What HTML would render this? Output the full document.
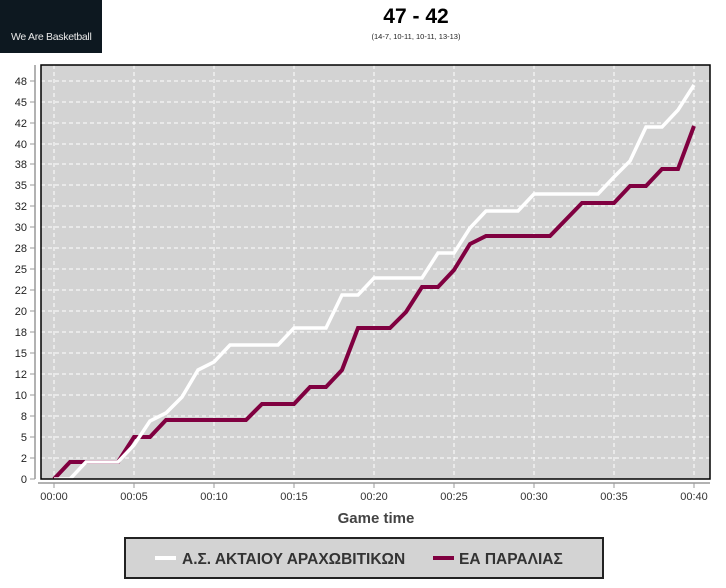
<!DOCTYPE html>
<html><head><meta charset="utf-8"><style>
html,body{margin:0;padding:0;background:#fff;width:726px;height:588px;overflow:hidden}
svg{display:block;font-family:"Liberation Sans",Arial,sans-serif}
</style></head><body>
<svg width="726" height="588" viewBox="0 0 726 588">
<rect x="0" y="0" width="102" height="53" fill="#0d1820"/>
<text x="11" y="40" font-size="10.5" fill="#e8e8e8" letter-spacing="-0.3">We Are Basketball</text>
<text x="416" y="23" text-anchor="middle" font-size="21" font-weight="bold" fill="#000">47 - 42</text>
<text x="416" y="39" text-anchor="middle" font-size="7.5" fill="#222">(14-7, 10-11, 10-11, 13-13)</text>
<rect x="41" y="65" width="669" height="414" fill="#d3d3d3"/>
<g stroke="#fff" stroke-width="1" stroke-dasharray="4,3">
<line x1="41" x2="710" y1="458" y2="458"/><line x1="41" x2="710" y1="437" y2="437"/>
<line x1="41" x2="710" y1="416" y2="416"/><line x1="41" x2="710" y1="395" y2="395"/>
<line x1="41" x2="710" y1="374" y2="374"/><line x1="41" x2="710" y1="353" y2="353"/>
<line x1="41" x2="710" y1="332" y2="332"/><line x1="41" x2="710" y1="311" y2="311"/>
<line x1="41" x2="710" y1="290" y2="290"/><line x1="41" x2="710" y1="269" y2="269"/>
<line x1="41" x2="710" y1="248" y2="248"/><line x1="41" x2="710" y1="227" y2="227"/>
<line x1="41" x2="710" y1="206" y2="206"/><line x1="41" x2="710" y1="185" y2="185"/>
<line x1="41" x2="710" y1="164" y2="164"/><line x1="41" x2="710" y1="144" y2="144"/>
<line x1="41" x2="710" y1="123" y2="123"/><line x1="41" x2="710" y1="102" y2="102"/>
<line x1="41" x2="710" y1="81" y2="81"/>
<line y1="65" y2="479" x1="54" x2="54"/><line y1="65" y2="479" x1="134" x2="134"/>
<line y1="65" y2="479" x1="214" x2="214"/><line y1="65" y2="479" x1="294" x2="294"/>
<line y1="65" y2="479" x1="374" x2="374"/><line y1="65" y2="479" x1="454" x2="454"/>
<line y1="65" y2="479" x1="534" x2="534"/><line y1="65" y2="479" x1="614" x2="614"/>
<line y1="65" y2="479" x1="694" x2="694"/>
</g>
<polyline fill="none" stroke="#800040" stroke-width="4" points="54,479 70,462 86,462 118,462 134,437 150,437 166,420 246,420 262,404 294,404 310,387 326,387 342,370 358,328 390,328 406,312 422,287 438,287 454,270 470,244 486,236 550,236 582,203 614,203 630,186 646,186 662,169 678,169 694,126"/>
<polyline fill="none" stroke="#fff" stroke-width="3.5" points="54,479 70,479 86,462 118,462 134,445 150,421 166,413 182,397 198,370 214,362 230,345 278,345 294,328 326,328 342,295 358,295 374,278 422,278 438,253 454,253 470,228 486,211 518,211 534,194 598,194 614,177 630,161 646,127 662,127 678,110 694,85"/>
<rect x="41" y="65" width="669" height="414" fill="none" stroke="#000" stroke-width="1.5"/>
<g stroke="#999" stroke-width="1.5" fill="none">
<line x1="35" y1="65" x2="35" y2="479"/>
<line x1="38" y1="483" x2="710" y2="483"/>
</g>
<g stroke="#999" stroke-width="1">
<line x1="30" x2="35" y1="479" y2="479"/><line x1="30" x2="35" y1="458" y2="458"/><line x1="30" x2="35" y1="437" y2="437"/><line x1="30" x2="35" y1="416" y2="416"/><line x1="30" x2="35" y1="395" y2="395"/><line x1="30" x2="35" y1="374" y2="374"/><line x1="30" x2="35" y1="353" y2="353"/><line x1="30" x2="35" y1="332" y2="332"/><line x1="30" x2="35" y1="311" y2="311"/><line x1="30" x2="35" y1="290" y2="290"/><line x1="30" x2="35" y1="269" y2="269"/><line x1="30" x2="35" y1="248" y2="248"/><line x1="30" x2="35" y1="227" y2="227"/><line x1="30" x2="35" y1="206" y2="206"/><line x1="30" x2="35" y1="185" y2="185"/><line x1="30" x2="35" y1="164" y2="164"/><line x1="30" x2="35" y1="144" y2="144"/><line x1="30" x2="35" y1="123" y2="123"/><line x1="30" x2="35" y1="102" y2="102"/><line x1="30" x2="35" y1="81" y2="81"/>
<line y1="483" y2="488" x1="54" x2="54"/><line y1="483" y2="488" x1="134" x2="134"/><line y1="483" y2="488" x1="214" x2="214"/><line y1="483" y2="488" x1="294" x2="294"/><line y1="483" y2="488" x1="374" x2="374"/><line y1="483" y2="488" x1="454" x2="454"/><line y1="483" y2="488" x1="534" x2="534"/><line y1="483" y2="488" x1="614" x2="614"/><line y1="483" y2="488" x1="694" x2="694"/>
</g>
<g font-size="11" fill="#222" text-anchor="end">
<text x="27" y="483">0</text><text x="27" y="462">2</text><text x="27" y="441">5</text><text x="27" y="420">8</text><text x="27" y="399">10</text><text x="27" y="378">12</text><text x="27" y="357">15</text><text x="27" y="336">18</text><text x="27" y="315">20</text><text x="27" y="294">22</text><text x="27" y="273">25</text><text x="27" y="252">28</text><text x="27" y="231">30</text><text x="27" y="210">32</text><text x="27" y="189">35</text><text x="27" y="168">38</text><text x="27" y="148">40</text><text x="27" y="127">42</text><text x="27" y="106">45</text><text x="27" y="85">48</text>
</g>
<g font-size="11" fill="#333" text-anchor="middle">
<text x="54" y="500">00:00</text><text x="134" y="500">00:05</text><text x="214" y="500">00:10</text><text x="294" y="500">00:15</text><text x="374" y="500">00:20</text><text x="454" y="500">00:25</text><text x="534" y="500">00:30</text><text x="614" y="500">00:35</text><text x="694" y="500">00:40</text>
</g>
<text x="376" y="523" text-anchor="middle" font-size="15" font-weight="bold" fill="#444">Game time</text>
<rect x="125" y="538" width="478" height="40" fill="#d3d3d3" stroke="#222" stroke-width="2"/>
<line x1="155" y1="558" x2="176" y2="558" stroke="#fff" stroke-width="4"/>
<text x="182" y="564" font-size="15.5" font-weight="bold" fill="#333">Α.Σ. ΑΚΤΑΙΟΥ ΑΡΑΧΩΒΙΤΙΚΩΝ</text>
<line x1="433" y1="558" x2="454" y2="558" stroke="#800040" stroke-width="4"/>
<text x="459" y="564" font-size="15.5" font-weight="bold" fill="#333">ΕΑ ΠΑΡΑΛΙΑΣ</text>
</svg>
</body></html>
